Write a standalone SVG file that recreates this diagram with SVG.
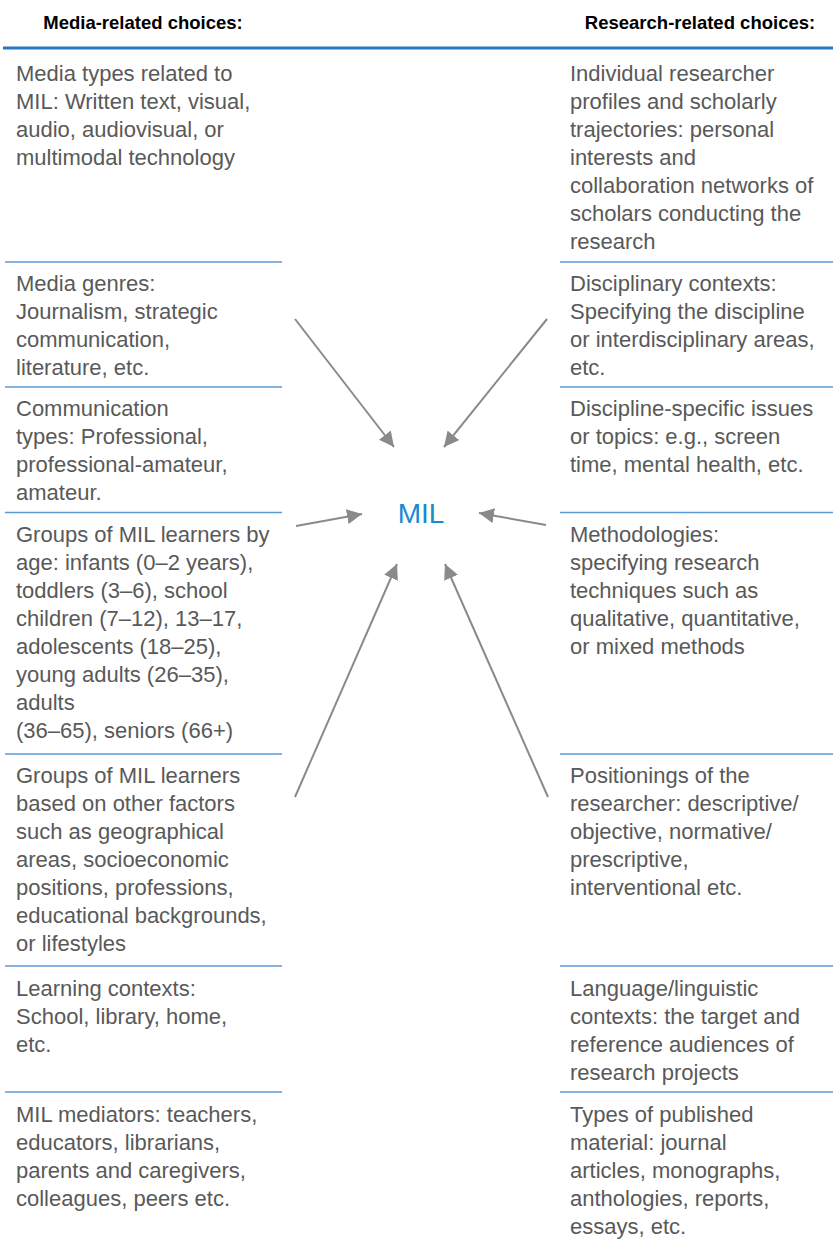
<svg xmlns="http://www.w3.org/2000/svg" width="833" height="1242" viewBox="0 0 833 1242">
<style>
.hd{font-family:"Liberation Sans",Arial,sans-serif;font-weight:bold;font-size:18.5px;fill:#000;text-anchor:middle}
.t{font-family:"Liberation Sans",Arial,sans-serif;font-size:22px;fill:#595959}
.sep{stroke:#5b9bd5;stroke-width:1.5;fill:none}
.top{stroke:#2a76c0;stroke-width:3;fill:none}
.arr{stroke:#8a8a8a;stroke-width:2;fill:none;marker-end:url(#ah)}
.mil{font-family:"Liberation Sans",Arial,sans-serif;font-size:28px;fill:#1a8ad0;text-anchor:middle}
</style>
<defs>
<marker id="ah" viewBox="0 0 10 10" refX="10" refY="5" markerWidth="7.5" markerHeight="7.5" markerUnits="strokeWidth" orient="auto">
<path d="M0,0 L10,5 L0,10 z" fill="#8a8a8a"/>
</marker>
</defs>
<rect width="833" height="1242" fill="#fff"/>
<g id="headers">
<text class="hd" x="143" y="29">Media-related choices:</text>
<text class="hd" x="700" y="29">Research-related choices:</text>
</g>
<g id="rules">
<line class="top" x1="3" y1="48" x2="833" y2="48"/>
<line class="sep" x1="5" y1="262" x2="282" y2="262"/>
<line class="sep" x1="5" y1="387" x2="282" y2="387"/>
<line class="sep" x1="5" y1="512.5" x2="282" y2="512.5"/>
<line class="sep" x1="5" y1="754" x2="282" y2="754"/>
<line class="sep" x1="5" y1="966" x2="282" y2="966"/>
<line class="sep" x1="5" y1="1092" x2="282" y2="1092"/>
<line class="sep" x1="560" y1="262" x2="833" y2="262"/>
<line class="sep" x1="560" y1="387" x2="833" y2="387"/>
<line class="sep" x1="560" y1="512.5" x2="833" y2="512.5"/>
<line class="sep" x1="560" y1="754" x2="833" y2="754"/>
<line class="sep" x1="560" y1="966" x2="833" y2="966"/>
<line class="sep" x1="560" y1="1092" x2="833" y2="1092"/>
</g>
<g id="L1"><text class="t" x="16" y="81">Media types related to</text><text class="t" x="16" y="109">MIL: Written text, visual,</text><text class="t" x="16" y="137">audio, audiovisual, or</text><text class="t" x="16" y="165">multimodal technology</text></g>
<g id="L2"><text class="t" x="16" y="291">Media genres:</text><text class="t" x="16" y="319">Journalism, strategic</text><text class="t" x="16" y="347">communication,</text><text class="t" x="16" y="375">literature, etc.</text></g>
<g id="L3"><text class="t" x="16" y="416">Communication</text><text class="t" x="16" y="444">types: Professional,</text><text class="t" x="16" y="472">professional-amateur,</text><text class="t" x="16" y="500">amateur.</text></g>
<g id="L4"><text class="t" x="16" y="542">Groups of MIL learners by</text><text class="t" x="16" y="570">age: infants (0–2 years),</text><text class="t" x="16" y="598">toddlers (3–6), school</text><text class="t" x="16" y="626">children (7–12), 13–17,</text><text class="t" x="16" y="654">adolescents (18–25),</text><text class="t" x="16" y="682">young adults (26–35),</text><text class="t" x="16" y="710">adults</text><text class="t" x="16" y="738">(36–65), seniors (66+)</text></g>
<g id="L5"><text class="t" x="16" y="783">Groups of MIL learners</text><text class="t" x="16" y="811">based on other factors</text><text class="t" x="16" y="839">such as geographical</text><text class="t" x="16" y="867">areas, socioeconomic</text><text class="t" x="16" y="895">positions, professions,</text><text class="t" x="16" y="923">educational backgrounds,</text><text class="t" x="16" y="951">or lifestyles</text></g>
<g id="L6"><text class="t" x="16" y="996">Learning contexts:</text><text class="t" x="16" y="1024">School, library, home,</text><text class="t" x="16" y="1052">etc.</text></g>
<g id="L7"><text class="t" x="16" y="1122">MIL mediators: teachers,</text><text class="t" x="16" y="1150">educators, librarians,</text><text class="t" x="16" y="1178">parents and caregivers,</text><text class="t" x="16" y="1206">colleagues, peers etc.</text></g>
<g id="R1"><text class="t" x="570" y="81">Individual researcher</text><text class="t" x="570" y="109">profiles and scholarly</text><text class="t" x="570" y="137">trajectories: personal</text><text class="t" x="570" y="165">interests and</text><text class="t" x="570" y="193">collaboration networks of</text><text class="t" x="570" y="221">scholars conducting the</text><text class="t" x="570" y="249">research</text></g>
<g id="R2"><text class="t" x="570" y="291">Disciplinary contexts:</text><text class="t" x="570" y="319">Specifying the discipline</text><text class="t" x="570" y="347">or interdisciplinary areas,</text><text class="t" x="570" y="375">etc.</text></g>
<g id="R3"><text class="t" x="570" y="416">Discipline-specific issues</text><text class="t" x="570" y="444">or topics: e.g., screen</text><text class="t" x="570" y="472">time, mental health, etc.</text></g>
<g id="R4"><text class="t" x="570" y="542">Methodologies:</text><text class="t" x="570" y="570">specifying research</text><text class="t" x="570" y="598">techniques such as</text><text class="t" x="570" y="626">qualitative, quantitative,</text><text class="t" x="570" y="654">or mixed methods</text></g>
<g id="R5"><text class="t" x="570" y="783">Positionings of the</text><text class="t" x="570" y="811">researcher: descriptive/</text><text class="t" x="570" y="839">objective, normative/</text><text class="t" x="570" y="867">prescriptive,</text><text class="t" x="570" y="895">interventional etc.</text></g>
<g id="R6"><text class="t" x="570" y="996">Language/linguistic</text><text class="t" x="570" y="1024">contexts: the target and</text><text class="t" x="570" y="1052">reference audiences of</text><text class="t" x="570" y="1080">research projects</text></g>
<g id="R7"><text class="t" x="570" y="1122">Types of published</text><text class="t" x="570" y="1150">material: journal</text><text class="t" x="570" y="1178">articles, monographs,</text><text class="t" x="570" y="1206">anthologies, reports,</text><text class="t" x="570" y="1234">essays, etc.</text></g>
<g id="MIL"><text class="mil" x="421" y="523">MIL</text></g>
<g id="connectors">
<line class="arr" x1="295" y1="319" x2="394" y2="447"/>
<line class="arr" x1="547" y1="319" x2="444" y2="447"/>
<line class="arr" x1="296" y1="526" x2="362" y2="514"/>
<line class="arr" x1="546" y1="525" x2="479" y2="513"/>
<line class="arr" x1="295" y1="797" x2="397" y2="564"/>
<line class="arr" x1="548" y1="797" x2="445" y2="564"/>
</g>
</svg>
